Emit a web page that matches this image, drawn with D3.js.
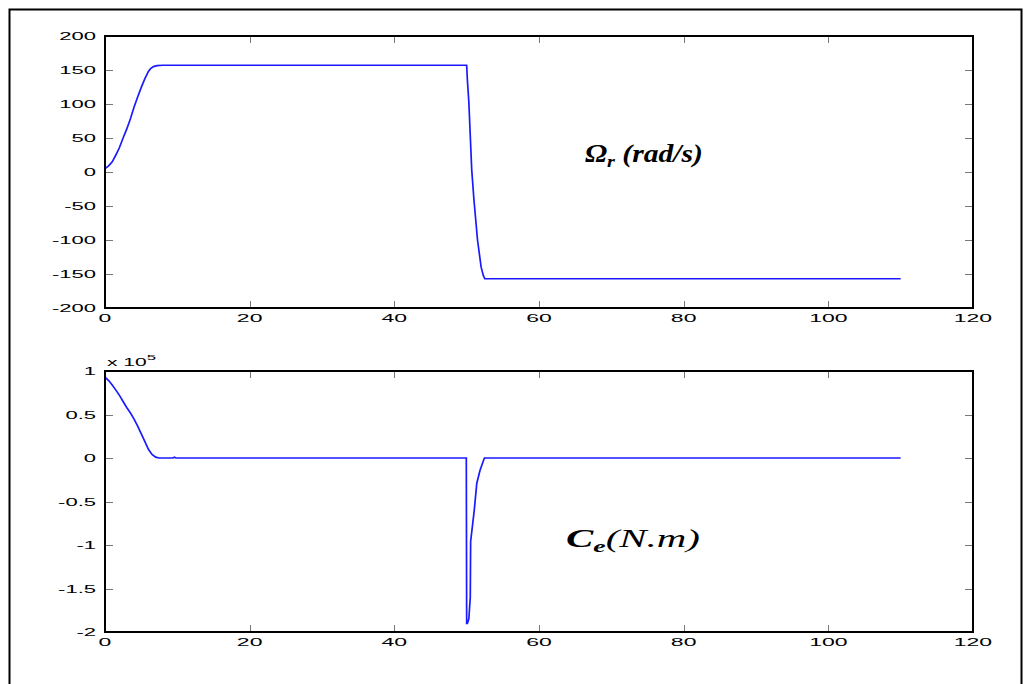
<!DOCTYPE html>
<html>
<head>
<meta charset="utf-8">
<script src="https://cdn.jsdelivr.net/npm/d3@7"></script>
<style>
  html, body { margin: 0; padding: 0; background: #fff; }
  svg { display: block; }
</style>
</head>
<body>
<svg id="chart" width="1030" height="684"></svg>
<script>
// Rotor speed Ω_r (rad/s) versus time (s)
const speedTime = [0, 0.5, 1, 1.5, 2, 2.5, 3, 3.5, 4, 4.5, 5, 5.5, 6, 6.3, 6.7, 7.2, 8, 30, 50,
  50.1, 50.3, 50.7, 51, 51.5, 52, 52.3, 52.5, 110];
const speedValue = [5, 9, 15, 25, 36, 50, 63, 78, 95, 110, 124, 137, 148, 152, 155, 156.5, 157, 157, 157,
  135, 103, 3, -40, -100, -140, -152, -157, -157];

// Electromagnetic torque C_e (N.m, ×10^5) versus time (s)
const torqueTime = [0, 0.5, 1, 1.5, 2, 2.5, 3, 3.5, 4, 4.5, 5, 5.5, 6, 6.5, 7, 7.5, 9.4, 9.6, 9.8, 30, 49.95,
  50.0, 50.1, 50.3, 50.5, 50.55, 51.05, 51.4, 51.85, 52.45, 60, 80, 110];
const torqueValue = [0.93, 0.89, 0.84, 0.78, 0.72, 0.65, 0.58, 0.52, 0.45, 0.37, 0.28, 0.19, 0.10, 0.04, 0.01, 0,
  0, 0.01, 0, 0, 0,
  -1.9, -1.9, -1.85, -1.6, -0.96, -0.6, -0.29, -0.14, 0, 0, 0, 0];

const xTicks = [0, 20, 40, 60, 80, 100, 120];
const speedTicks = [-200, -150, -100, -50, 0, 50, 100, 150, 200];
const torqueTicks = [-2, -1.5, -1, -0.5, 0, 0.5, 1];

const svg = d3.select("#chart");

// outer frame
svg.append("rect")
  .attr("x", 9.5).attr("y", 9.5).attr("width", 1012).attr("height", 700)
  .attr("fill", "none").attr("stroke", "#000").attr("stroke-width", 2);

const left = 105, right = 973;
const x = d3.scaleLinear().domain([0, 120]).range([left, right]);

function tickLabel(sel, stretch) {
  sel.each(function () {
    const w = this.getComputedTextLength();
    d3.select(this).attr("textLength", w * stretch).attr("lengthAdjust", "spacingAndGlyphs");
  });
}

function panel(cfg) {
  const y = d3.scaleLinear().domain(cfg.domain).range([cfg.bottom, cfg.top]);
  const g = svg.append("g");

  // inward grey ticks on all four sides
  const tk = g.append("g").attr("stroke", "#777").attr("stroke-width", 1);
  xTicks.forEach(t => {
    const px = Math.round(x(t)) + 0.5;
    tk.append("line").attr("x1", px).attr("x2", px).attr("y1", cfg.bottom).attr("y2", cfg.bottom - 7);
    tk.append("line").attr("x1", px).attr("x2", px).attr("y1", cfg.top).attr("y2", cfg.top + 7);
  });
  cfg.ticks.forEach(t => {
    const py = Math.round(y(t)) + 0.5;
    tk.append("line").attr("x1", left).attr("x2", left + 8).attr("y1", py).attr("y2", py);
    tk.append("line").attr("x1", right).attr("x2", right - 8).attr("y1", py).attr("y2", py);
  });

  // data line
  const line = d3.line().x(d => x(d[0])).y(d => y(d[1]));
  g.append("path")
    .datum(cfg.t.map((t, i) => [t, cfg.v[i]]))
    .attr("d", line)
    .attr("fill", "none").attr("stroke", "#1a1aff").attr("stroke-width", 1.7)
    .attr("stroke-linejoin", "miter");

  // axes box
  g.append("rect")
    .attr("x", left).attr("y", cfg.top).attr("width", right - left).attr("height", cfg.bottom - cfg.top)
    .attr("fill", "none").attr("stroke", "#000").attr("stroke-width", 2);

  // x tick labels
  g.append("g").selectAll("text").data(xTicks).join("text")
    .attr("x", d => x(d)).attr("y", cfg.bottom + 14)
    .attr("text-anchor", "middle")
    .attr("font-family", "Liberation Sans, Arial, sans-serif").attr("font-size", 10)
    .text(d => d)
    .call(tickLabel, 2.3);

  // y tick labels
  g.append("g").selectAll("text").data(cfg.ticks).join("text")
    .attr("x", left - 9).attr("y", d => y(d) + 4)
    .attr("text-anchor", "end")
    .attr("font-family", "Liberation Sans, Arial, sans-serif").attr("font-size", 10)
    .text(d => d)
    .call(tickLabel, 2.2);
  return g;
}

panel({ top: 36, bottom: 308, domain: [-200, 200], ticks: speedTicks, t: speedTime, v: speedValue });
const g2 = panel({ top: 371, bottom: 632, domain: [-2, 1], ticks: torqueTicks, t: torqueTime, v: torqueValue });

// exponent marker of the torque axis
const exp = g2.append("text")
  .attr("x", 107).attr("y", 366)
  .attr("font-family", "Liberation Sans, Arial, sans-serif").attr("font-size", 10);
exp.append("tspan").text("x 10");
exp.append("tspan").attr("dy", -6).attr("font-size", 8).text("5");
exp.call(s => {
  const w = s.node().getComputedTextLength();
  s.attr("textLength", w * 2.1).attr("lengthAdjust", "spacingAndGlyphs");
});

// curve titles, widened horizontally to the drawn width
function widen(sel, x0, y0, width) {
  const w = sel.node().getComputedTextLength();
  sel.attr("transform", `translate(${x0},${y0}) scale(${width / w},1)`);
}

const t1 = svg.append("text")
  .attr("font-family", "Liberation Serif, Times New Roman, serif")
  .attr("font-size", 25).attr("font-weight", "bold").attr("font-style", "italic");
t1.append("tspan").text("Ω");
t1.append("tspan").attr("dy", 5).attr("font-size", 17).text("r");
t1.append("tspan").attr("dy", -5).text(" (rad/s)");
widen(t1, 585, 162, 118);

const t2 = svg.append("text")
  .attr("font-family", "Liberation Serif, Times New Roman, serif")
  .attr("font-size", 25).attr("font-style", "italic");
t2.append("tspan").attr("font-weight", "bold").text("C");
t2.append("tspan").attr("dy", 5).attr("font-size", 17).attr("font-weight", "bold").text("e");
t2.append("tspan").attr("dy", -5).text("(N.m)");
widen(t2, 566, 547, 134);
</script>
</body>
</html>
